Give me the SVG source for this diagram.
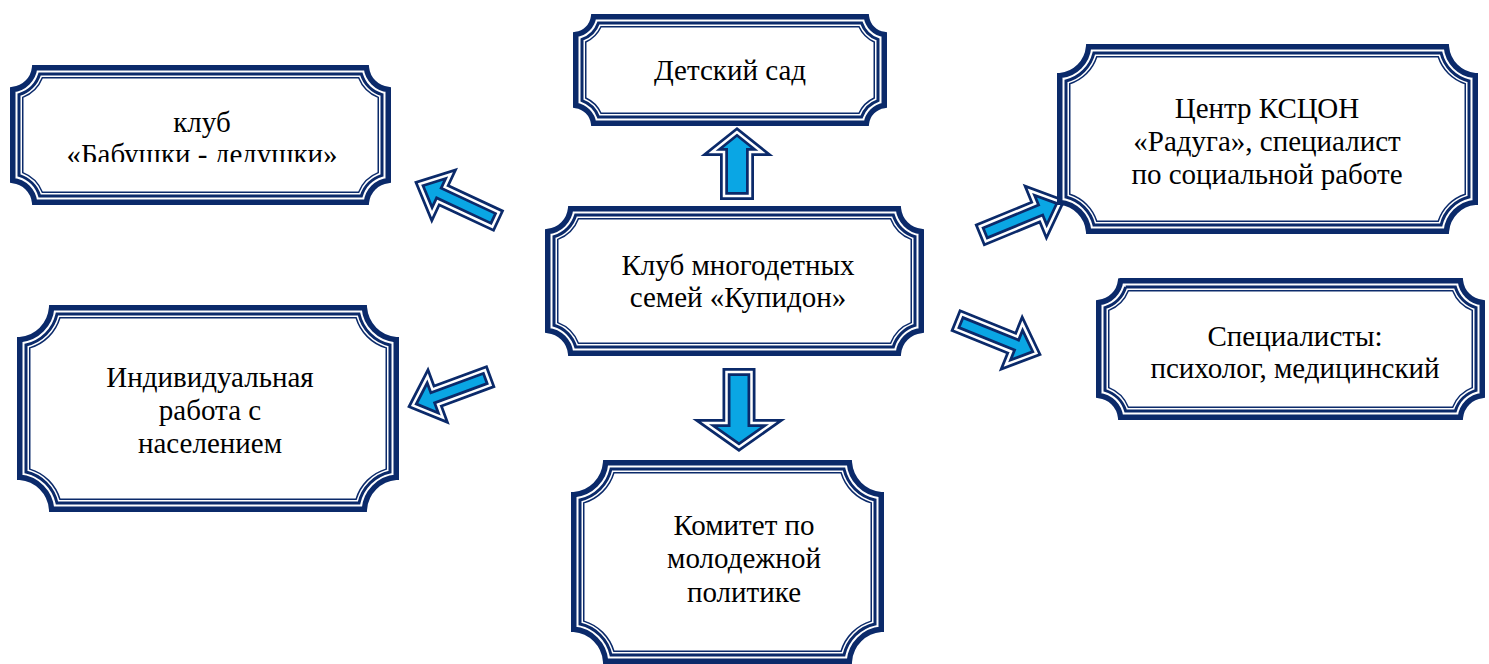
<svg xmlns="http://www.w3.org/2000/svg" width="1489" height="664" viewBox="0 0 1489 664">
<style>
.f1{fill:#fff;stroke:#0B2A6A;stroke-width:5.5}
.f2{fill:none;stroke:#0B2A6A;stroke-width:3}
.f3{fill:none;stroke:#0B2A6A;stroke-width:1.5}
.t{font-family:"Liberation Serif","Times New Roman",serif;font-size:29px;fill:#000;text-anchor:middle}
.aO{fill:#0AA6E4;stroke:#0B2A6A;stroke-width:8;stroke-linejoin:miter;stroke-miterlimit:10}
.aW{fill:none;stroke:#fff;stroke-width:2.5;stroke-linejoin:miter;stroke-miterlimit:10}
</style>
<defs>
<clipPath id="clipA"><rect x="20" y="75" width="365" height="87"/></clipPath>
<path id="diag84" d="M0 0 L-24 -22 L-24 -8 L-84 -8 L-84 8 L-24 8 L-24 22 Z"/>
<path id="diag80" d="M0 0 L-24 -22 L-24 -8 L-80 -8 L-80 8 L-24 8 L-24 22 Z"/>
<path id="upA" d="M0 0 L-20 -25 L-20 -13 L-64 -13 L-64 13 L-20 13 L-20 25 Z"/>
<path id="downA" d="M0 0 L-24 -34 L-24 -12.5 L-75 -12.5 L-75 12.5 L-24 12.5 L-24 34 Z"/>
</defs>

<g id="connectors">
<g transform="translate(419.5 184) rotate(205)"><use href="#diag84" class="aO"/><use href="#diag84" class="aW"/></g>
<g transform="translate(412.7 405.3) rotate(159.7)"><use href="#diag80" class="aO"/><use href="#diag80" class="aW"/></g>
<g transform="translate(1060.4 201.9) rotate(-22.4)"><use href="#diag84" class="aO"/><use href="#diag84" class="aW"/></g>
<g transform="translate(1036.4 353.1) rotate(22)"><use href="#diag84" class="aO"/><use href="#diag84" class="aW"/></g>
<g transform="translate(737 132) rotate(-90)"><use href="#upA" class="aO"/><use href="#upA" class="aW"/></g>
<g transform="translate(739 447) rotate(90)"><use href="#downA" class="aO"/><use href="#downA" class="aW"/></g>
</g>

<g id="node-babushki">
<path class="f1" d="M34.6 67.75 h331.8 a24.75 24.75 0 0 0 21.85 21.85 v90.8 a24.75 24.75 0 0 0 -21.85 21.85 h-331.8 a24.75 24.75 0 0 0 -21.85 -21.85 v-90.8 a24.75 24.75 0 0 0 21.85 -21.85 z"/>
<path class="f2" d="M39.66 74 h321.68 a31 31 0 0 0 20.66 20.66 v80.68 a31 31 0 0 0 -20.66 20.66 h-321.68 a31 31 0 0 0 -20.66 -20.66 v-80.68 a31 31 0 0 0 20.66 -20.66 z"/>
<path class="f3" d="M42.33 77.75 h316.34 a34.75 34.75 0 0 0 19.58 19.58 v75.34 a34.75 34.75 0 0 0 -19.58 19.58 h-316.34 a34.75 34.75 0 0 0 -19.58 -19.58 v-75.34 a34.75 34.75 0 0 0 19.58 -19.58 z"/>
<g clip-path="url(#clipA)">
<text class="t" x="202" y="132">клуб</text>
<text class="t" x="202" y="164">«Бабушки - дедушки»</text>
</g>
</g>

<g id="node-detsad">
<path class="f1" d="M593.57 16.75 h272.86 a20.75 20.75 0 0 0 17.82 17.82 v70.86 a20.75 20.75 0 0 0 -17.82 17.82 h-272.86 a20.75 20.75 0 0 0 -17.82 -17.82 v-70.86 a20.75 20.75 0 0 0 17.82 -17.82 z"/>
<path class="f2" d="M598.46 23 h263.08 a27 27 0 0 0 16.46 16.46 v61.08 a27 27 0 0 0 -16.46 16.46 h-263.08 a27 27 0 0 0 -16.46 -16.46 v-61.08 a27 27 0 0 0 16.46 -16.46 z"/>
<path class="f3" d="M600.98 26.75 h258.04 a30.75 30.75 0 0 0 15.23 15.23 v56.04 a30.75 30.75 0 0 0 -15.23 15.23 h-258.04 a30.75 30.75 0 0 0 -15.23 -15.23 v-56.04 a30.75 30.75 0 0 0 15.23 -15.23 z"/>
<text class="t" x="730" y="80">Детский сад</text>
</g>

<g id="node-kscon">
<path class="f1" d="M1088.63 46.75 h357.74 a31.75 31.75 0 0 0 28.88 28.88 v126.74 a31.75 31.75 0 0 0 -28.88 28.88 h-357.74 a31.75 31.75 0 0 0 -28.88 -28.88 v-126.74 a31.75 31.75 0 0 0 28.88 -28.88 z"/>
<path class="f2" d="M1093.92 53 h347.16 a38 38 0 0 0 27.92 27.92 v116.16 a38 38 0 0 0 -27.92 27.92 h-347.16 a38 38 0 0 0 -27.92 -27.92 v-116.16 a38 38 0 0 0 27.92 -27.92 z"/>
<path class="f3" d="M1096.76 56.75 h341.48 a41.75 41.75 0 0 0 27.01 27.01 v110.48 a41.75 41.75 0 0 0 -27.01 27.01 h-341.48 a41.75 41.75 0 0 0 -27.01 -27.01 v-110.48 a41.75 41.75 0 0 0 27.01 -27.01 z"/>
<text class="t" x="1267" y="118">Центр КСЦОН</text>
<text class="t" x="1267" y="151">«Радуга», специалист</text>
<text class="t" x="1267" y="184">по социальной работе</text>
</g>

<g id="node-kupidon">
<path class="f1" d="M570.6 208.75 h327.8 a25.75 25.75 0 0 0 22.85 22.85 v98.8 a25.75 25.75 0 0 0 -22.85 22.85 h-327.8 a25.75 25.75 0 0 0 -22.85 -22.85 v-98.8 a25.75 25.75 0 0 0 22.85 -22.85 z"/>
<path class="f2" d="M575.71 215 h317.58 a32 32 0 0 0 21.71 21.71 v88.58 a32 32 0 0 0 -21.71 21.71 h-317.58 a32 32 0 0 0 -21.71 -21.71 v-88.58 a32 32 0 0 0 21.71 -21.71 z"/>
<path class="f3" d="M578.4 218.75 h312.2 a35.75 35.75 0 0 0 20.65 20.65 v83.2 a35.75 35.75 0 0 0 -20.65 20.65 h-312.2 a35.75 35.75 0 0 0 -20.65 -20.65 v-83.2 a35.75 35.75 0 0 0 20.65 -20.65 z"/>
<text class="t" x="738" y="275">Клуб многодетных</text>
<text class="t" x="738" y="307">семей «Купидон»</text>
</g>

<g id="node-specialisty">
<path class="f1" d="M1120.6 280.75 h339.8 a24.75 24.75 0 0 0 21.85 21.85 v92.8 a24.75 24.75 0 0 0 -21.85 21.85 h-339.8 a24.75 24.75 0 0 0 -21.85 -21.85 v-92.8 a24.75 24.75 0 0 0 21.85 -21.85 z"/>
<path class="f2" d="M1125.66 287 h329.68 a31 31 0 0 0 20.66 20.66 v82.68 a31 31 0 0 0 -20.66 20.66 h-329.68 a31 31 0 0 0 -20.66 -20.66 v-82.68 a31 31 0 0 0 20.66 -20.66 z"/>
<path class="f3" d="M1128.33 290.75 h324.34 a34.75 34.75 0 0 0 19.58 19.58 v77.34 a34.75 34.75 0 0 0 -19.58 19.58 h-324.34 a34.75 34.75 0 0 0 -19.58 -19.58 v-77.34 a34.75 34.75 0 0 0 19.58 -19.58 z"/>
<text class="t" x="1295" y="346">Специалисты:</text>
<text class="t" x="1295" y="378">психолог, медицинский</text>
</g>

<g id="node-individ">
<path class="f1" d="M51.64 307.75 h312.72 a34.75 34.75 0 0 0 31.89 31.89 v137.72 a34.75 34.75 0 0 0 -31.89 31.89 h-312.72 a34.75 34.75 0 0 0 -31.89 -31.89 v-137.72 a34.75 34.75 0 0 0 31.89 -31.89 z"/>
<path class="f2" d="M57 314 h302 a41 41 0 0 0 31 31 v127 a41 41 0 0 0 -31 31 h-302 a41 41 0 0 0 -31 -31 v-127 a41 41 0 0 0 31 -31 z"/>
<path class="f3" d="M59.9 317.75 h296.2 a44.75 44.75 0 0 0 30.15 30.15 v121.2 a44.75 44.75 0 0 0 -30.15 30.15 h-296.2 a44.75 44.75 0 0 0 -30.15 -30.15 v-121.2 a44.75 44.75 0 0 0 30.15 -30.15 z"/>
<text class="t" x="210" y="387">Индивидуальная</text>
<text class="t" x="210" y="420">работа с</text>
<text class="t" x="210" y="453">населением</text>
</g>

<g id="node-komitet">
<path class="f1" d="M605.64 462.75 h243.72 a34.75 34.75 0 0 0 31.89 31.89 v134.72 a34.75 34.75 0 0 0 -31.89 31.89 h-243.72 a34.75 34.75 0 0 0 -31.89 -31.89 v-134.72 a34.75 34.75 0 0 0 31.89 -31.89 z"/>
<path class="f2" d="M611 469 h233 a41 41 0 0 0 31 31 v124 a41 41 0 0 0 -31 31 h-233 a41 41 0 0 0 -31 -31 v-124 a41 41 0 0 0 31 -31 z"/>
<path class="f3" d="M613.9 472.75 h227.2 a44.75 44.75 0 0 0 30.15 30.15 v118.2 a44.75 44.75 0 0 0 -30.15 30.15 h-227.2 a44.75 44.75 0 0 0 -30.15 -30.15 v-118.2 a44.75 44.75 0 0 0 30.15 -30.15 z"/>
<text class="t" x="744" y="535">Комитет по</text>
<text class="t" x="744" y="568">молодежной</text>
<text class="t" x="744" y="602">политике</text>
</g>
</svg>
